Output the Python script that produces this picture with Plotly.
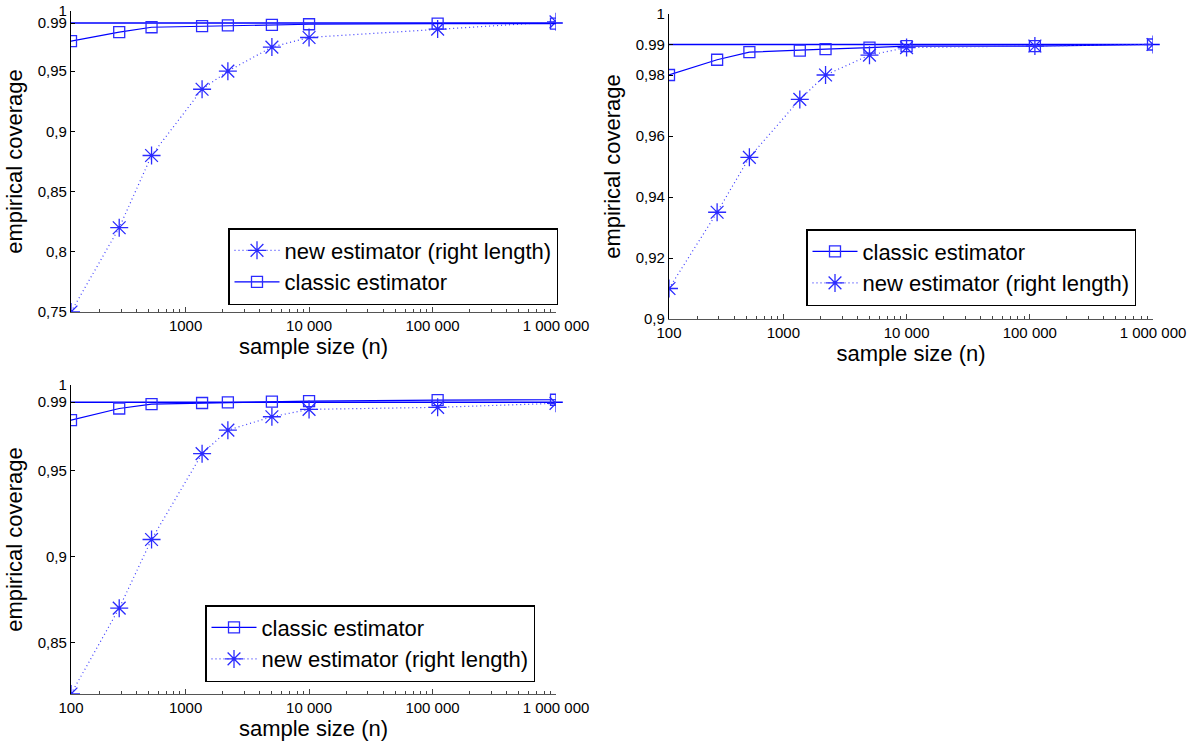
import plotly.graph_objects as go

# ---------------- data ----------------
sample_sizes = [118, 290, 530, 1360, 2200, 5000, 10000, 110000, 1000000]

classic_1 = [0.975, 0.9825, 0.9865, 0.9875, 0.988, 0.9885, 0.989, 0.9895, 0.9895]
new_1 = [0.75, 0.82, 0.88, 0.935, 0.95, 0.97, 0.978, 0.985, 0.991]

classic_2 = [0.980, 0.985, 0.9875, 0.988, 0.9885, 0.989, 0.9895, 0.9895, 0.99]
new_2 = [0.910, 0.935, 0.953, 0.972, 0.980, 0.9865, 0.989, 0.9895, 0.99]

classic_3 = [0.9795, 0.9863, 0.9889, 0.9895, 0.9899, 0.9903, 0.9906, 0.9912, 0.9914]
new_3 = [0.82, 0.87, 0.91, 0.96, 0.9737, 0.9815, 0.9858, 0.987, 0.9893]

target = 0.99

x_tick_vals = [118, 1000, 10000, 100000, 1000000]
x_tick_text_1 = ["", "1000", "10 000", "100 000", "1 000 000"]
x_tick_text_23 = ["100", "1000", "10 000", "100 000", "1 000 000"]

y_tick_vals_1 = [0.75, 0.8, 0.85, 0.9, 0.95, 0.99, 1]
y_tick_text_1 = ["0,75", "0,8", "0,85", "0,9", "0,95", "0.99", "1"]
y_tick_vals_2 = [0.9, 0.92, 0.94, 0.96, 0.98, 0.99, 1]
y_tick_text_2 = ["0,9", "0,92", "0,94", "0,96", "0,98", "0.99", "1"]
y_tick_vals_3 = [0.85, 0.9, 0.95, 0.99, 1]
y_tick_text_3 = ["0,85", "0,9", "0,95", "0.99", "1"]

y_ranges = [[0.75, 1.0], [0.9, 1.0], [0.82, 1.0]]

label_classic = "classic estimator"
label_new = "new estimator (right length)"

# ---------------- styling ----------------
W, H = 1197, 744
FONT = "Liberation Sans, Arial, Helvetica, sans-serif"
BLUE = "#0000ff"
MARK = "#2b2bff"
DOT = "#3c3cff"


def classic_trace(y, ax, legend):
    return go.Scatter(
        x=sample_sizes, y=y, name=label_classic, mode="lines+markers",
        line=dict(color=BLUE, width=1.2),
        marker=dict(symbol="square-open", size=11, color=MARK, line=dict(width=1.3, color=MARK)),
        xaxis="x" + ax, yaxis="y" + ax, legend=legend,
    )


def new_trace(y, ax, legend):
    return go.Scatter(
        x=sample_sizes, y=y, name=label_new, mode="lines+markers",
        line=dict(color=DOT, width=1.2, dash="1px,3px"),
        marker=dict(symbol="asterisk-open", size=15, color=MARK, line=dict(width=1.3, color=MARK)),
        xaxis="x" + ax, yaxis="y" + ax, legend=legend,
    )


fig = go.Figure()
# panel 1 (legend order: new first)
fig.add_trace(new_trace(new_1, "", "legend"))
fig.add_trace(classic_trace(classic_1, "", "legend"))
# panel 2
fig.add_trace(classic_trace(classic_2, "2", "legend2"))
fig.add_trace(new_trace(new_2, "2", "legend2"))
# panel 3
fig.add_trace(classic_trace(classic_3, "3", "legend3"))
fig.add_trace(new_trace(new_3, "3", "legend3"))

# reference line at the nominal level
for ax in ["x", "x2", "x3"]:
    yref = "y" + ax[1:]
    fig.add_shape(type="line", xref=ax + " domain", yref=yref,
                  x0=0, x1=1.014, y0=target, y1=target,
                  line=dict(color=BLUE, width=1.5), layer="below")


def px_x(a, b):
    return [a / W, b / W]


def px_y(top, bottom):
    return [1 - bottom / H, 1 - top / H]


def xaxis(domain, anchor, ticktext):
    return dict(
        type="log", domain=domain, anchor=anchor,
        range=[2.0719, 6.0],
        tickmode="array", tickvals=x_tick_vals, ticktext=ticktext,
        ticks="inside", ticklen=5, tickwidth=1, tickcolor="#444",
        minor=dict(ticks="inside", ticklen=3, tickwidth=1, tickcolor="#444", dtick="D1", showgrid=False),
        showline=True, linecolor="#555", linewidth=1.3,
        showgrid=False, zeroline=False,
        tickfont=dict(family=FONT, size=15, color="black"),
        title=dict(text="sample size (n)", font=dict(family=FONT, size=22, color="black"), standoff=4),
        automargin=False,
    )


def yaxis(domain, anchor, rng, vals, text):
    return dict(
        domain=domain, anchor=anchor, range=rng,
        tickmode="array", tickvals=vals, ticktext=text,
        ticks="inside", ticklen=4, tickwidth=1, tickcolor="black",
        showline=True, linecolor="black", linewidth=1.2,
        showgrid=False, zeroline=False,
        tickfont=dict(family=FONT, size=15, color="black"),
        title=dict(text="empirical coverage", font=dict(family=FONT, size=22, color="black"), standoff=8),
        automargin=False,
    )


legend_common = dict(
    bgcolor="white", bordercolor="black", borderwidth=1.5,
    font=dict(family=FONT, size=22, color="black"),
    xanchor="right", yanchor="top", itemwidth=45,
    tracegroupgap=0,
)

fig.update_layout(
    width=W, height=H, autosize=False,
    margin=dict(l=0, r=0, t=0, b=0),
    paper_bgcolor="white", plot_bgcolor="white",
    font=dict(family=FONT, color="black"),
    xaxis=xaxis(px_x(71, 556), "y", x_tick_text_1),
    yaxis=yaxis(px_y(11, 312), "x", y_ranges[0], y_tick_vals_1, y_tick_text_1),
    xaxis2=xaxis(px_x(669, 1153), "y2", x_tick_text_23),
    yaxis2=yaxis(px_y(14, 319), "x2", y_ranges[1], y_tick_vals_2, y_tick_text_2),
    xaxis3=xaxis(px_x(71, 556), "y3", x_tick_text_23),
    yaxis3=yaxis(px_y(385, 694), "x3", y_ranges[2], y_tick_vals_3, y_tick_text_3),
    legend=dict(x=558 / W, y=1 - 228 / H, **legend_common),
    legend2=dict(x=1136 / W, y=1 - 229 / H, **legend_common),
    legend3=dict(x=535 / W, y=1 - 605 / H, **legend_common),
    showlegend=True,
)

fig.write_html("out.html", config={"displayModeBar": False},
               post_script="document.body.style.margin='0';")
